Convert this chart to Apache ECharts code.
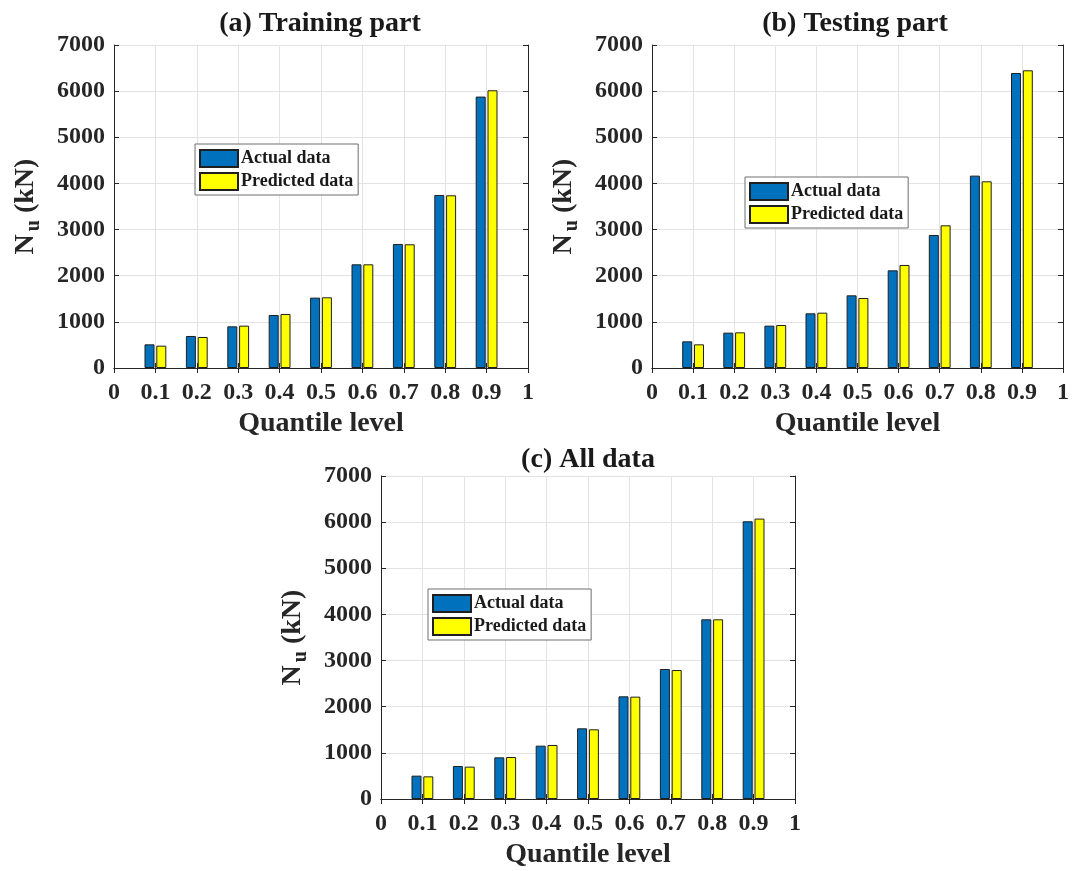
<!DOCTYPE html>
<html>
<head>
<meta charset="utf-8">
<title>Quantile comparison of N_u</title>
<script src="https://cdn.jsdelivr.net/npm/echarts@6/dist/echarts.min.js"></script>
<style>
  html, body { margin: 0; padding: 0; background: #fff; }
  #chart { width: 1072px; height: 871px; }
</style>
</head>
<body>
<div id="chart"></div>
<script>
// Quantile levels (x-axis ticks) and the levels where bars are drawn
const xTicks = ['0', '0.1', '0.2', '0.3', '0.4', '0.5', '0.6', '0.7', '0.8', '0.9', '1'];
const levels = ['0.1', '0.2', '0.3', '0.4', '0.5', '0.6', '0.7', '0.8', '0.9'];

// N_u (kN) at each quantile level
const trainActual    = [513, 694, 903, 1149, 1525, 2247, 2688, 3750, 5882];
const trainPredicted = [484, 672, 918, 1171, 1532, 2247, 2681, 3743, 6019];
const testActual     = [578, 766, 918, 1185, 1575, 2117, 2883, 4169, 6394];
const testPredicted  = [513, 773, 932, 1199, 1517, 2233, 3092, 4046, 6452];
const allActual      = [506, 715, 903, 1156, 1532, 2225, 2818, 3894, 6019];
const allPredicted   = [491, 701, 910, 1171, 1510, 2218, 2796, 3894, 6077];

const panelTitles = ['(a) Training part', '(b) Testing part', '(c) All data'];
const seriesNames = ['Actual data', 'Predicted data'];
const yTicks = [0, 1000, 2000, 3000, 4000, 5000, 6000, 7000];

const FONT = '"Liberation Serif", "Times New Roman", serif';
const BLUE = '#0072BD';
const YELLOW = '#FFFF00';
const AXIS = '#262626';
const GRID = '#e3e3e3';

// Place values on the full tick list (no bars at 0 and 1)
function onTicks(values) {
  return xTicks.map(t => {
    const i = levels.indexOf(t);
    return i >= 0 ? values[i] : null;
  });
}

const panels = [
  { grid: { left: 114, top: 45, width: 414, height: 323 },
    legend: { left: 195, top: 144 }, title: [315, 5],
    data: [trainActual, trainPredicted] },
  { grid: { left: 652, top: 45, width: 413, height: 323 },
    legend: { left: 745, top: 177 }, title: [850, 5],
    data: [testActual, testPredicted] },
  { grid: { left: 381, top: 476, width: 414, height: 323 },
    legend: { left: 428, top: 589 }, title: [583, 441],
    data: [allActual, allPredicted] }
];

const option = {
  backgroundColor: '#fff',
  animation: false,
  textStyle: { fontFamily: FONT },
  title: [], grid: [], xAxis: [], yAxis: [], legend: [], series: []
};

panels.forEach((p, k) => {
  option.grid.push(Object.assign({ containLabel: false }, p.grid));

  option.title.push({
    text: panelTitles[k],
    left: p.title[0], top: p.title[1],
    textAlign: 'center',
    textStyle: { fontFamily: FONT, fontWeight: 'bold', fontSize: 28, color: '#1a1a1a' }
  });

  // bottom x axis with labels
  option.xAxis.push({
    type: 'category', gridIndex: k, data: xTicks, boundaryGap: false,
    position: 'bottom',
    name: 'Quantile level', nameLocation: 'middle', nameGap: 42,
    nameTextStyle: { fontFamily: FONT, fontWeight: 'bold', fontSize: 28, color: '#262626' },
    axisLine: { show: true, lineStyle: { color: AXIS, width: 1 } },
    axisTick: { show: true, inside: true, length: 5, alignWithLabel: true, lineStyle: { color: AXIS } },
    axisLabel: { fontFamily: FONT, fontWeight: 'bold', fontSize: 24, color: '#262626', margin: 13, interval: 0 },
    splitLine: { show: true, lineStyle: { color: GRID, width: 1 } }
  });
  // top x axis: frame and ticks only
  option.xAxis.push({
    type: 'category', gridIndex: k, data: xTicks, boundaryGap: false,
    position: 'top',
    axisLine: { show: true, lineStyle: { color: AXIS, width: 1 } },
    axisTick: { show: true, inside: true, length: 5, lineStyle: { color: AXIS } },
    axisLabel: { show: false }, splitLine: { show: false }
  });

  // left y axis with labels
  option.yAxis.push({
    type: 'value', gridIndex: k, min: 0, max: 7000, interval: 1000,
    position: 'left',
    name: '{n|N}{s|u}{n| (kN)}', nameLocation: 'middle', nameGap: 70, nameRotate: 90,
    nameTextStyle: {
      fontFamily: FONT, fontWeight: 'bold', color: '#262626',
      rich: {
        n: { fontFamily: FONT, fontWeight: 'bold', fontSize: 28, color: '#262626' },
        s: { fontFamily: FONT, fontWeight: 'bold', fontSize: 20, color: '#262626',
             verticalAlign: 'bottom', padding: [16, 0, 0, 3] }
      }
    },
    axisLine: { show: true, lineStyle: { color: AXIS, width: 1 } },
    axisTick: { show: true, inside: true, length: 5, lineStyle: { color: AXIS } },
    axisLabel: {
      fontFamily: FONT, fontWeight: 'bold', fontSize: 24, color: '#262626', margin: 9,
      formatter: v => (yTicks.indexOf(v) >= 0 ? String(v) : '')
    },
    splitLine: { show: true, lineStyle: { color: GRID, width: 1 } }
  });
  // right y axis: frame and ticks only
  option.yAxis.push({
    type: 'value', gridIndex: k, min: 0, max: 7000, interval: 1000,
    position: 'right',
    axisLine: { show: true, lineStyle: { color: AXIS, width: 1 } },
    axisTick: { show: true, inside: true, length: 5, lineStyle: { color: AXIS } },
    axisLabel: { show: false }, splitLine: { show: false }
  });

  option.legend.push({
    orient: 'vertical',
    left: p.legend.left, top: p.legend.top,
    data: seriesNames,
    itemWidth: 38, itemHeight: 17, itemGap: 4,
    padding: [5, 5, 4, 4],
    backgroundColor: '#fff',
    borderColor: '#6e6e6e', borderWidth: 1, borderRadius: 0,
    icon: 'rect',
    textStyle: { fontFamily: FONT, fontWeight: 'bold', fontSize: 18, color: '#1a1a1a', padding: [0, 0, 0, -2] }
  });

  [BLUE, YELLOW].forEach((color, j) => {
    option.series.push({
      type: 'bar', name: seriesNames[j],
      xAxisIndex: 2 * k, yAxisIndex: 2 * k,
      data: onTicks(p.data[j]),
      barWidth: 10, barGap: '18%',
      itemStyle: { color: color, borderColor: '#1f1f1f', borderWidth: 1 }
    });
  });
});

const chart = echarts.init(document.getElementById('chart'), null, { renderer: 'canvas' });
chart.setOption(option);
</script>
</body>
</html>
